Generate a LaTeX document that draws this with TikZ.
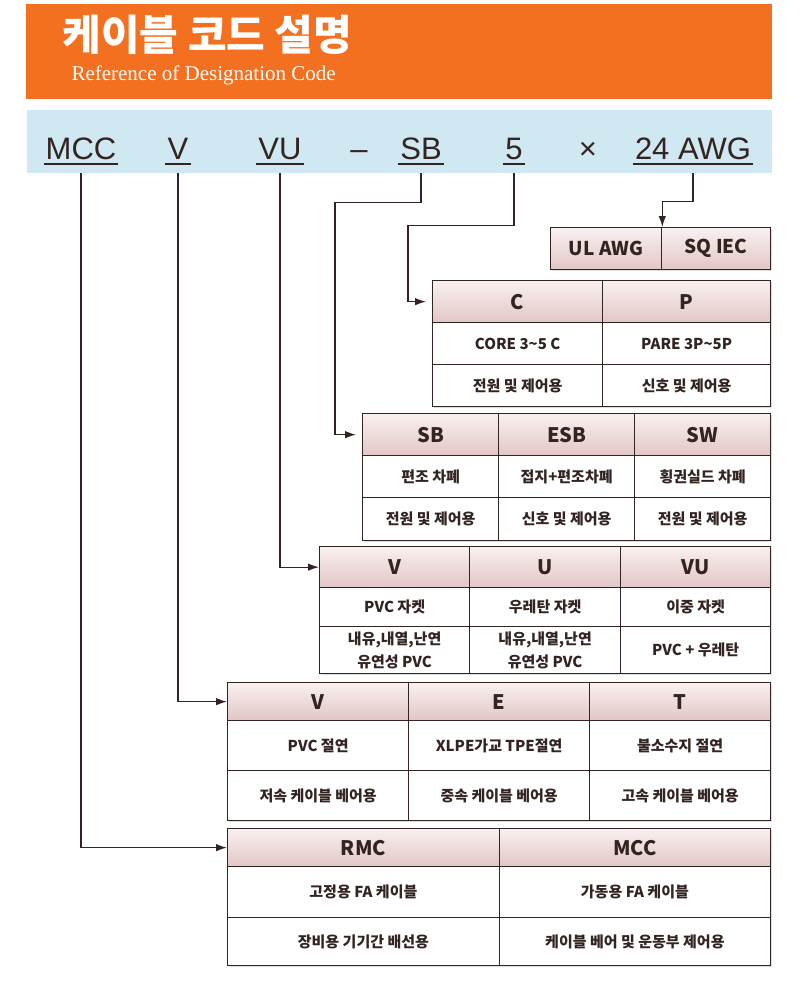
\documentclass[tikz,border=0pt]{standalone}
\usepackage{fontspec}
\newfontfamily\krfont{Noto Sans CJK KR}
\newfontfamily\codefont{Liberation Sans}
\newfontfamily\subfont{Liberation Serif}
\usetikzlibrary{arrows.meta}
\usetikzlibrary{shadows}

\definecolor{headorange}{RGB}{243,112,33}
\definecolor{barblue}{RGB}{208,232,241}
\definecolor{linebrown}{RGB}{50,36,32}
\definecolor{celltop}{RGB}{250,240,240}
\definecolor{cellbot}{RGB}{226,198,198}

\tikzset{
  hcell/.style={draw=linebrown, line width=1.3bp, anchor=north west, inner sep=0pt,
    top color=celltop, bottom color=cellbot, text=linebrown, minimum height=42bp,
    drop shadow={shadow xshift=1.5bp, shadow yshift=-1.5bp, opacity=0.25},
    font=\krfont\bfseries\fontsize{20bp}{24bp}\selectfont},
  bcell/.style={draw=linebrown, line width=1.3bp, anchor=north west, inner sep=0pt,
    fill=white, text=linebrown, align=center, minimum height=42bp,
    drop shadow={shadow xshift=1.5bp, shadow yshift=-1.5bp, opacity=0.25},
    font=\krfont\bfseries\fontsize{15bp}{23bp}\selectfont},
  code/.style={anchor=base, inner xsep=2bp, inner ysep=4.5bp, text=linebrown,
    font=\codefont\fontsize{31bp}{31bp}\selectfont},
  uline/.style={linebrown, line width=1.6bp},
  conn/.style={linebrown, line width=1.3bp, -{Latex[length=11bp,width=7.5bp]}},
}

\begin{document}
\begin{tikzpicture}[x=1bp, y=-1bp]
    \useasboundingbox (0,0) rectangle (800,1000);

    % title band
    \node[fill=headorange, minimum width=746bp, minimum height=95bp, anchor=north west, inner sep=0pt] (head) at (26,4) {};
    \node[anchor=base west, text=white, font=\krfont\bfseries\fontsize{42bp}{48bp}\selectfont] (title) at (59,50) {케이블 코드 설명};
    \node[anchor=base west, text=white, font=\subfont\fontsize{21bp}{24bp}\selectfont] (subtitle) at (68,80) {Reference of Designation Code};

    % designation code
    \node[fill=barblue, minimum width=745bp, minimum height=63bp, anchor=north west, inner sep=0pt] (bar) at (27,110) {};
    \node[code] (cMCC) at (81,159) {MCC};
    \node[code] (cV) at (178,159) {V};
    \node[code] (cVU) at (280,159) {VU};
    \node[code] (cdash) at (359,159) {–};
    \node[code] (cSB) at (421,159) {SB};
    \node[code] (cfive) at (514,159) {5};
    \node[code] (ctimes) at (588,159) {×};
    \node[code] (cAWG) at (693,159) {24 AWG};
    \foreach \n in {cMCC,cV,cVU,cSB,cfive,cAWG}
        \draw[uline] (\n.south west) -- (\n.south east);

    % conductor size
    \node[hcell, minimum width=111bp, font=\krfont\bfseries\fontsize{19bp}{24bp}\selectfont] (ulawg) at (550,227) {UL AWG};
    \node[hcell, minimum width=109bp, font=\krfont\bfseries\fontsize{19bp}{24bp}\selectfont] (sqiec) at (661,227) {SQ IEC};

    % cores / pairs
    \node[hcell, minimum width=170bp] (cc) at (432,280) {C};
    \node[hcell, minimum width=168bp] (pp) at (602,280) {P};
    \node[bcell, minimum width=170bp] (ccA) at (432,322) {CORE 3\textasciitilde5 C};
    \node[bcell, minimum width=168bp] (ppA) at (602,322) {PARE 3P\textasciitilde5P};
    \node[bcell, minimum width=170bp] (ccB) at (432,364) {전원 및 제어용};
    \node[bcell, minimum width=168bp] (ppB) at (602,364) {신호 및 제어용};

    % shield
    \node[hcell, minimum width=136bp] (sb) at (362,413) {SB};
    \node[hcell, minimum width=136bp] (esb) at (498,413) {ESB};
    \node[hcell, minimum width=136bp] (sw) at (634,413) {SW};
    \node[bcell, minimum width=136bp] (sbA) at (362,455) {편조 차폐};
    \node[bcell, minimum width=136bp] (esbA) at (498,455) {접지+편조차폐};
    \node[bcell, minimum width=136bp] (swA) at (634,455) {횡권실드 차폐};
    \node[bcell, minimum width=136bp, minimum height=43bp] (sbB) at (362,497) {전원 및 제어용};
    \node[bcell, minimum width=136bp, minimum height=43bp] (esbB) at (498,497) {신호 및 제어용};
    \node[bcell, minimum width=136bp, minimum height=43bp] (swB) at (634,497) {전원 및 제어용};

    % jacket
    \node[hcell, minimum width=150bp, minimum height=41bp] (vjk) at (319,546) {V};
    \node[hcell, minimum width=151bp, minimum height=41bp] (ujk) at (469,546) {U};
    \node[hcell, minimum width=150bp, minimum height=41bp] (vujk) at (620,546) {VU};
    \node[bcell, minimum width=150bp, minimum height=39bp] (vjkA) at (319,587) {PVC 자켓};
    \node[bcell, minimum width=151bp, minimum height=39bp] (ujkA) at (469,587) {우레탄 자켓};
    \node[bcell, minimum width=150bp, minimum height=39bp] (vujkA) at (620,587) {이중 자켓};
    \node[bcell, minimum width=150bp, minimum height=47bp] (vjkB) at (319,626) {내유,내열,난연\\유연성 PVC};
    \node[bcell, minimum width=151bp, minimum height=47bp] (ujkB) at (469,626) {내유,내열,난연\\유연성 PVC};
    \node[bcell, minimum width=150bp, minimum height=47bp] (vujkB) at (620,626) {PVC + 우레탄};

    % insulation
    \node[hcell, minimum width=181bp, minimum height=38bp] (vins) at (227,682) {V};
    \node[hcell, minimum width=181bp, minimum height=38bp] (eins) at (408,682) {E};
    \node[hcell, minimum width=181bp, minimum height=38bp] (tins) at (589,682) {T};
    \node[bcell, minimum width=181bp, minimum height=50bp] (vinsA) at (227,720) {PVC 절연};
    \node[bcell, minimum width=181bp, minimum height=50bp] (einsA) at (408,720) {XLPE가교 TPE절연};
    \node[bcell, minimum width=181bp, minimum height=50bp] (tinsA) at (589,720) {불소수지 절연};
    \node[bcell, minimum width=181bp, minimum height=50bp] (vinsB) at (227,770) {저속 케이블 베어용};
    \node[bcell, minimum width=181bp, minimum height=50bp] (einsB) at (408,770) {중속 케이블 베어용};
    \node[bcell, minimum width=181bp, minimum height=50bp] (tinsB) at (589,770) {고속 케이블 베어용};

    % series
    \node[hcell, minimum width=271.5bp, minimum height=38bp] (rmc) at (227,828) {RMC};
    \node[hcell, minimum width=271.5bp, minimum height=38bp] (mcc) at (498.5,828) {MCC};
    \node[bcell, minimum width=271.5bp, minimum height=51bp] (rmcA) at (227,866) {고정용 FA 케이블};
    \node[bcell, minimum width=271.5bp, minimum height=51bp] (mccA) at (498.5,866) {가동용 FA 케이블};
    \node[bcell, minimum width=271.5bp, minimum height=48bp] (rmcB) at (227,917) {장비용 기기간 배선용};
    \node[bcell, minimum width=271.5bp, minimum height=48bp] (mccB) at (498.5,917) {케이블 베어 및 운동부 제어용};

    % leaders
    \draw[conn] (cMCC |- bar.south) |- (rmc.west);
    \draw[conn] (cV |- bar.south) |- (vins.west);
    \draw[conn] (cVU |- bar.south) |- (vjk.west);
    \draw[conn, shorten >=6bp] (cSB |- bar.south) -- ++(0,29) -- ++(-86,0) |- (sb.west);
    \draw[conn, shorten >=6bp] (cfive |- bar.south) -- ++(0,52) -- ++(-106,0) |- (cc.west);
    \draw[conn] (cAWG |- bar.south) -- ++(0,28) -| (ulawg.north east);
\end{tikzpicture}
\end{document}
